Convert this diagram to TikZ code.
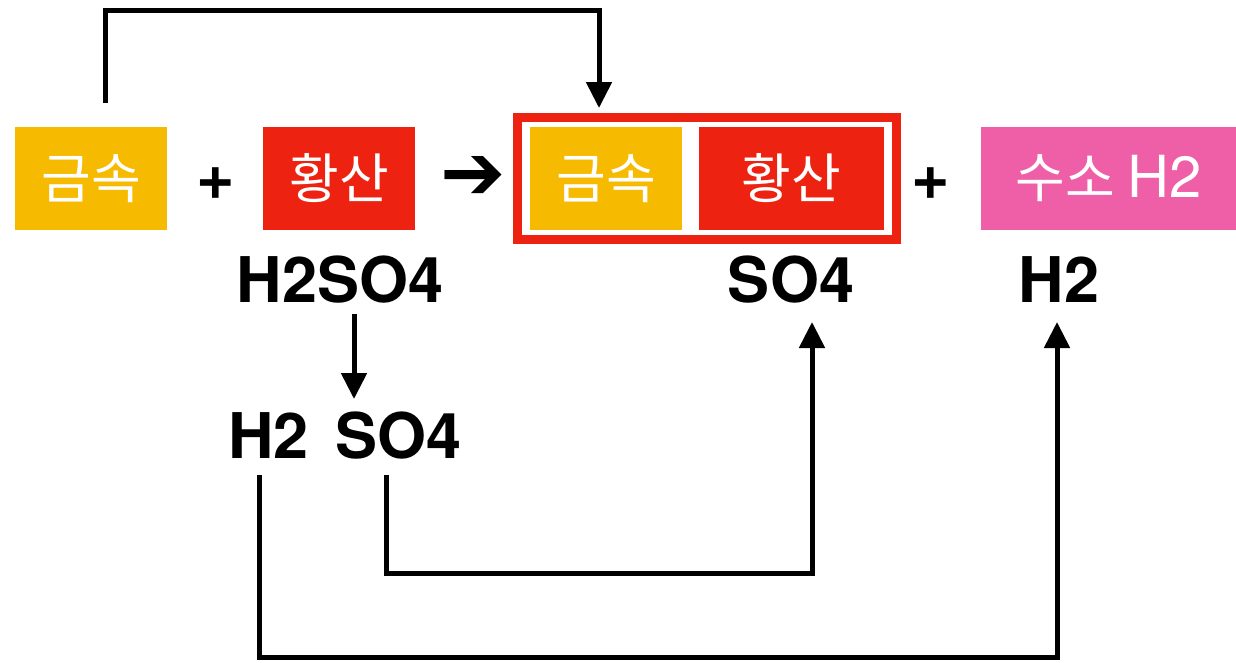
\documentclass[tikz,border=0pt]{standalone}
\usepackage{fontspec}
\setmainfont{TeX Gyre Heros}
\newfontfamily\kr{Noto Sans CJK KR}
\newfontfamily\sym{DejaVu Sans}
\usetikzlibrary{arrows.meta}
\definecolor{cyel}{HTML}{F6BA00}
\definecolor{cred}{HTML}{EE2210}
\definecolor{cpink}{HTML}{EF5FA7}
\tikzset{
  box/.style={inner sep=0pt, minimum height=103pt, text=white, font=\kr\fontsize{54}{60}\selectfont},
  formula/.style={inner sep=0pt, anchor=base, font=\bfseries\fontsize{63}{70}\selectfont},
  conn/.style={line width=5pt, -{Triangle[width=25pt,length=26pt]}},
}
\begin{document}
\begin{tikzpicture}[x=1pt,y=-1pt]
\useasboundingbox (0,0) rectangle (1236,662);
% left side
\node[box, fill=cyel, minimum width=152pt] (m1) at (91,178.5) {금속};
\node[formula, anchor=center, font=\bfseries\fontsize{66}{70}\selectfont] (p1) at (216,184) {+};
\node[box, fill=cred, minimum width=152pt] (h1) at (339,178.5) {황산};
\node[inner sep=0pt, font=\sym\bfseries\fontsize{78}{80}\selectfont] (arr) at (473,178) {➔};
% product frame
\node[draw=cred, line width=9pt, fill=white, minimum width=379pt, minimum height=122pt, inner sep=0pt] (frame) at (707,178.5) {};
\node[box, fill=cyel, minimum width=152pt] (m2) at (606,178.5) {금속};
\node[box, fill=cred, minimum width=185pt] (h2) at (791.5,178.5) {황산};
\node[formula, anchor=center, font=\bfseries\fontsize{66}{70}\selectfont] (p2) at (931,184) {+};
\node[box, fill=cpink, minimum width=255pt] (hy) at (1108.5,178.5) {수소 {\fontspec{TeX Gyre Heros}\fontsize{58}{60}\selectfont H2}};
% formulas
\node[formula] (f1) at (340,302) {H2SO4};
\node[formula] (f2) at (791,302) {SO4};
\node[formula] (f3) at (1059,302) {H2};
\node[formula] (f4) at (268.5,458) {H2};
\node[formula] (f5) at (398.5,458) {SO4};
% connectors
\coordinate (a1) at (105,103);
\coordinate (a2) at (599,108);
\draw[conn] (a1) -- (105,10.7) -| (a2);
\coordinate (b1) at (354,314);
\coordinate (b2) at (354,399);
\draw[conn] (b1) -- (b2);
\coordinate (c1) at (386,475);
\coordinate (c2) at (812,322);
\draw[conn] (c1) |- (812,573) -- (c2);
\coordinate (d1) at (259,475);
\coordinate (d2) at (1057,322);
\draw[conn] (d1) |- (1057,657) -- (d2);
\end{tikzpicture}
\end{document}
